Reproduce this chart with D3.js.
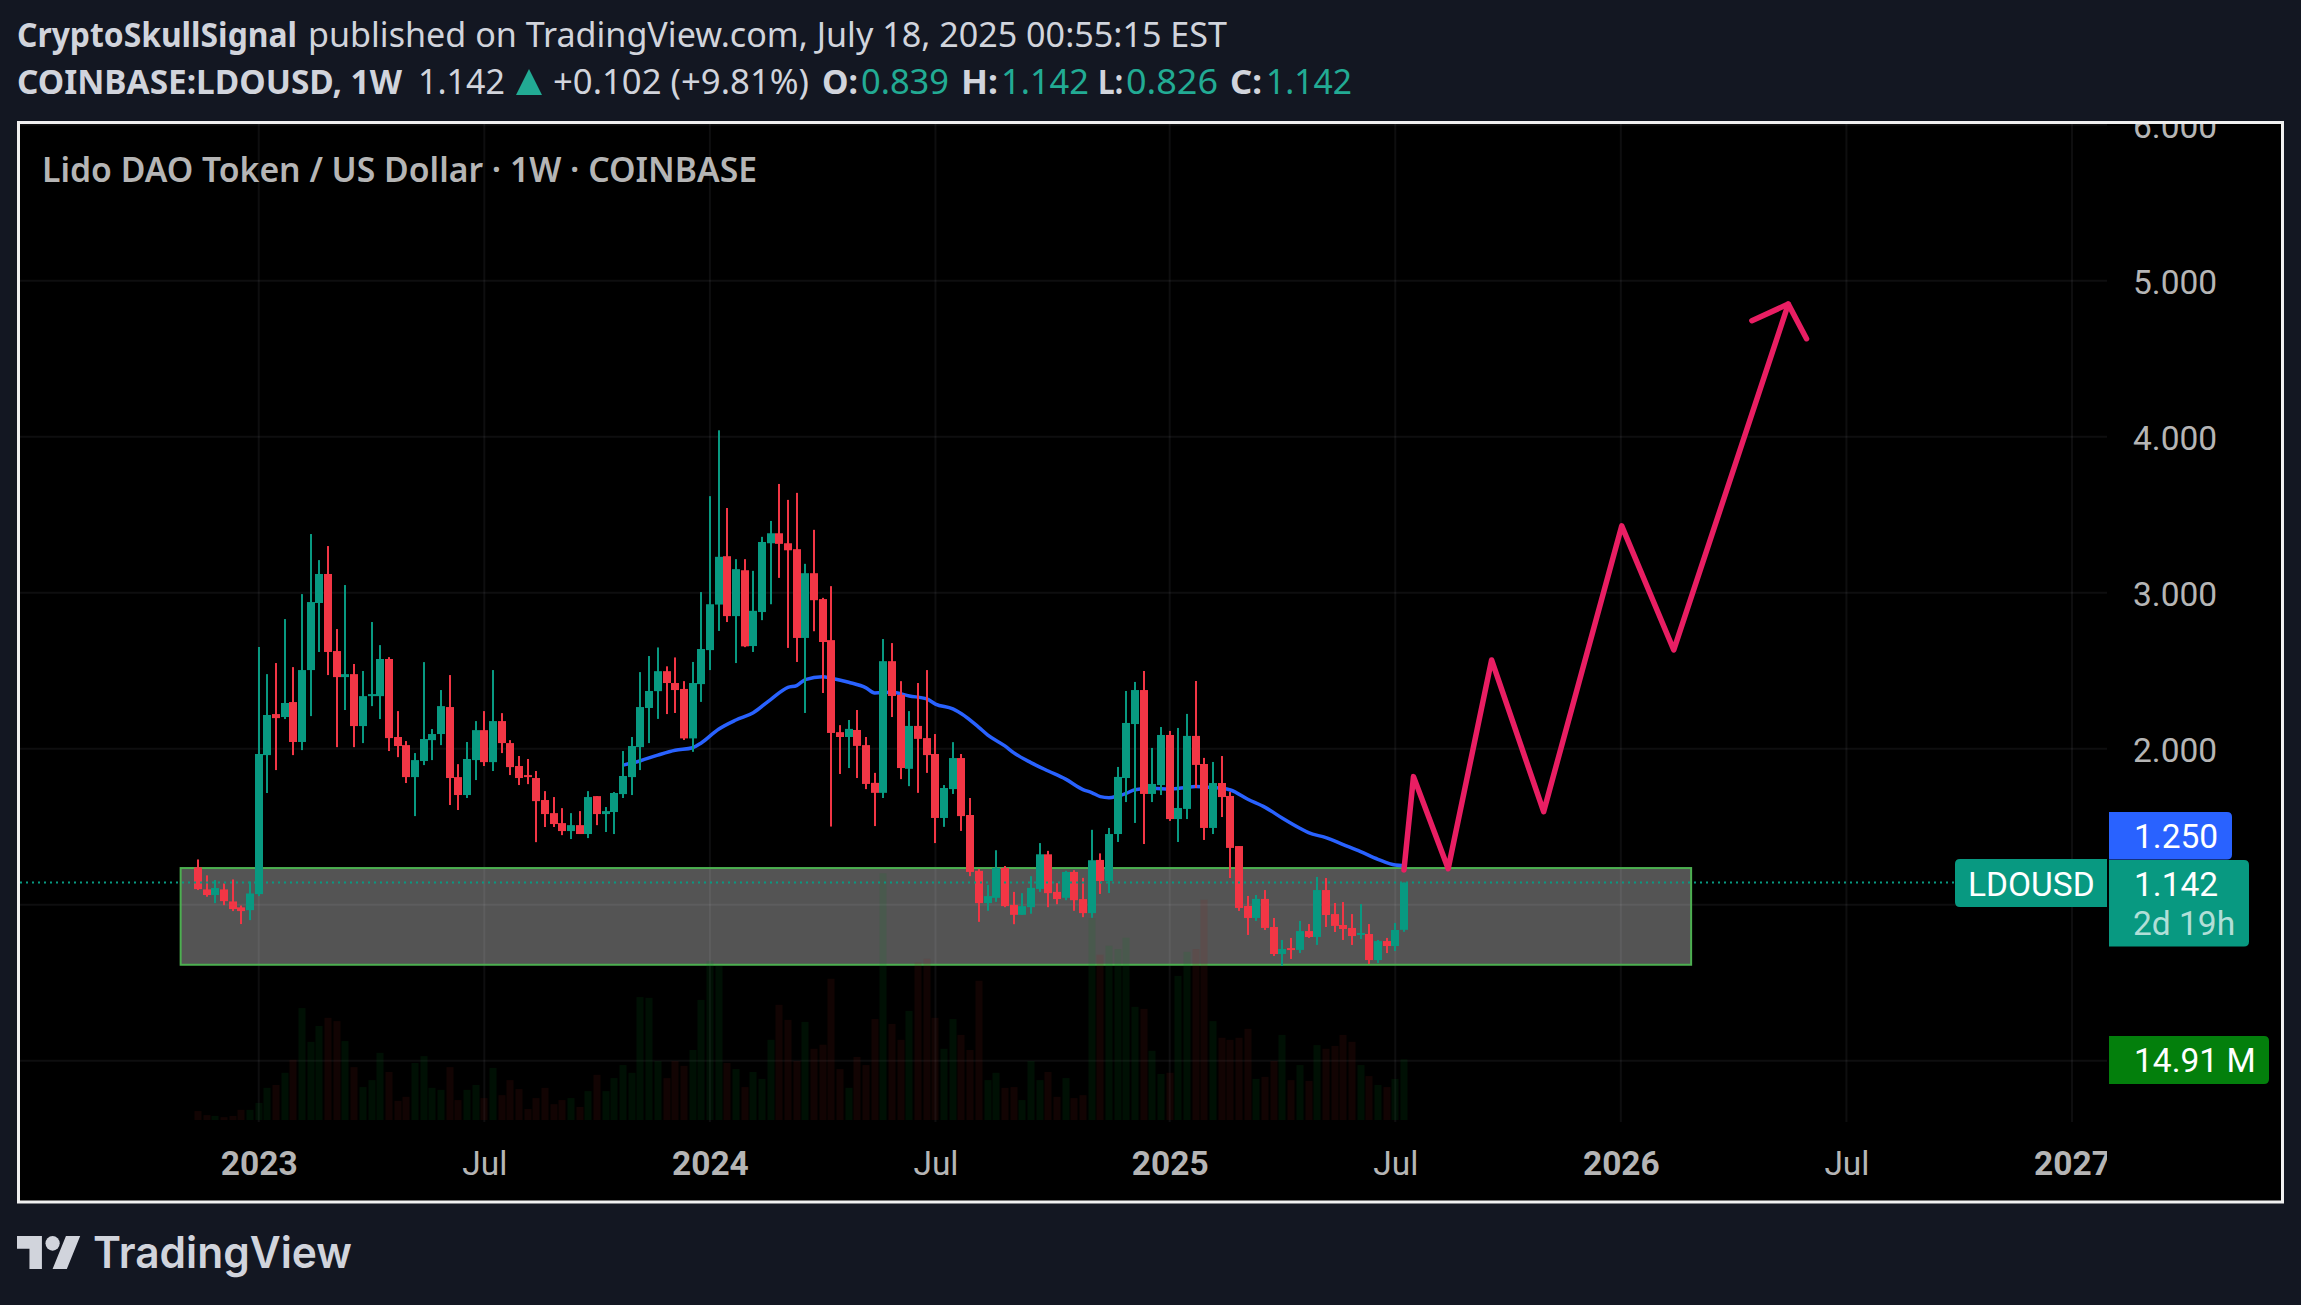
<!DOCTYPE html>
<html>

<head>
    <meta charset="utf-8" />
    <title>LDOUSD weekly</title>
    <script src="https://d3js.org/d3.v7.min.js" charset="utf-8"></script>

    <style type="text/css">
        html, body {
            margin: 0;
            padding: 0;
            background: #131722;
        }

        svg {
            display: block;
        }

        .head {
            font-family: "Noto Sans", sans-serif;
            font-size: 34px;
            fill: #d1d4dc;
        }

        .head .b {
            font-weight: 700;
        }

        .head .up {
            fill: #22ab94;
        }

        .axis text {
            font-family: Roboto, sans-serif;
            font-size: 33.5px;
            fill: #b5b5b5;
        }

        .axis path,
        .axis line {
            display: none;
        }

        .tag {
            font-family: Roboto, sans-serif;
            font-size: 33.5px;
            fill: #fff;
        }
    </style>
</head>

<body>

    <div id="chart"></div>

    <script>
        // Weekly candles (index 0 is late Oct 2022)
        var opens = [1.239, 1.098, 1.062, 1.098, 1.021, 0.983, 0.965, 1.068, 1.959, 2.222,
            2.203, 2.299, 2.043, 2.504, 2.934, 3.120, 2.626, 2.459, 2.478, 2.145,
            2.337, 2.337, 2.575, 2.075, 2.023, 1.818, 1.921, 2.055, 2.094, 2.267,
            1.818, 1.703, 1.927, 2.119, 1.914, 2.177, 2.036, 1.889, 1.831, 1.812,
            1.671, 1.587, 1.523, 1.472, 1.510, 1.453, 1.696, 1.581, 1.594, 1.709,
            1.818, 2.010, 2.261, 2.369, 2.497, 2.421, 2.383, 2.066, 2.414, 2.632,
            2.924, 3.234, 2.850, 3.144, 2.658, 2.876, 3.317, 3.381, 3.317, 3.279,
            2.710, 3.125, 2.959, 2.696, 2.106, 2.075, 2.120, 2.023, 1.781, 1.717,
            2.561, 2.345, 1.871, 2.146, 2.068, 1.966, 1.556, 1.741, 1.940, 1.575,
            1.217, 1.010, 1.044, 1.236, 0.999, 0.935, 0.984, 1.101, 1.323, 1.082,
            1.044, 1.210, 1.036, 0.946, 1.287, 1.152, 1.453, 1.812, 2.158, 2.376,
            1.710, 1.767, 2.088, 1.549, 1.614, 2.082, 1.902, 1.492, 1.780, 1.697,
            1.376, 0.992, 0.915, 1.037, 0.857, 0.684, 0.722, 0.710, 0.831, 0.793,
            1.094, 0.940, 0.870, 0.851, 0.806, 0.812, 0.645, 0.767, 0.735, 0.839]

        var highs = [1.290, 1.188, 1.158, 1.136, 1.162, 0.995, 1.149, 2.652, 2.478, 2.549,
            2.831, 2.523, 2.991, 3.376, 3.209, 3.299, 2.767, 3.049, 2.543, 2.498,
            2.812, 2.664, 2.587, 2.241, 2.049, 1.972, 2.555, 2.126, 2.376, 2.472,
            1.901, 2.043, 2.177, 2.241, 2.504, 2.228, 2.055, 1.953, 1.934, 1.857,
            1.728, 1.690, 1.619, 1.587, 1.600, 1.728, 1.696, 1.626, 1.722, 1.985,
            2.075, 2.491, 2.594, 2.649, 2.528, 2.585, 2.433, 2.556, 3.004, 3.619,
            4.041, 3.543, 3.215, 3.215, 3.140, 3.358, 3.460, 3.697, 3.595, 3.640,
            3.185, 3.403, 2.967, 3.042, 2.151, 2.184, 2.248, 2.075, 1.845, 2.703,
            2.677, 2.433, 2.241, 2.421, 2.504, 2.094, 1.767, 2.042, 1.966, 1.684,
            1.229, 1.127, 1.349, 1.248, 1.082, 1.074, 1.183, 1.395, 1.345, 1.138,
            1.217, 1.221, 1.172, 1.480, 1.329, 1.492, 1.883, 2.370, 2.428, 2.498,
            2.005, 2.139, 2.114, 2.133, 2.223, 2.434, 1.941, 1.915, 1.953, 1.723,
            1.376, 1.056, 1.062, 1.094, 0.915, 0.774, 0.787, 0.896, 0.876, 1.178,
            1.171, 1.011, 1.017, 0.940, 1.004, 0.876, 0.774, 0.787, 0.883, 1.142]

        var lows = [1.094, 1.051, 1.010, 0.997, 0.959, 0.876, 0.901, 1.055, 1.716, 1.863,
            2.190, 1.959, 1.991, 2.209, 2.620, 2.472, 2.010, 2.248, 2.010, 2.036,
            2.273, 2.190, 1.985, 1.946, 1.780, 1.568, 1.895, 1.927, 2.023, 1.639,
            1.607, 1.684, 1.799, 1.889, 1.857, 1.972, 1.831, 1.767, 1.773, 1.401,
            1.498, 1.498, 1.446, 1.421, 1.453, 1.427, 1.510, 1.466, 1.453, 1.684,
            1.703, 1.863, 2.036, 2.191, 2.222, 2.229, 2.056, 1.980, 2.300, 2.504,
            2.755, 2.812, 2.549, 2.651, 2.620, 2.824, 2.926, 3.095, 2.646, 2.556,
            2.229, 2.753, 2.357, 1.501, 1.838, 1.876, 1.812, 1.741, 1.504, 1.684,
            2.203, 1.805, 1.760, 1.717, 1.845, 1.395, 1.499, 1.710, 1.473, 1.183,
            0.890, 0.961, 1.018, 0.984, 0.875, 0.935, 0.942, 1.082, 0.984, 1.003,
            1.029, 0.961, 0.920, 0.916, 1.069, 1.075, 1.402, 1.658, 1.524, 1.389,
            1.658, 1.703, 1.537, 1.402, 1.549, 1.748, 1.415, 1.453, 1.562, 1.171,
            0.960, 0.806, 0.896, 0.838, 0.671, 0.607, 0.652, 0.690, 0.787, 0.742,
            0.857, 0.825, 0.774, 0.742, 0.780, 0.620, 0.626, 0.690, 0.703, 0.826]

        var closes = [1.100, 1.062, 1.107, 1.023, 0.972, 0.959, 1.072, 1.966, 2.216, 2.196,
            2.293, 2.043, 2.504, 2.940, 3.120, 2.620, 2.459, 2.478, 2.145, 2.337,
            2.350, 2.575, 2.068, 2.017, 1.818, 1.927, 2.062, 2.094, 2.273, 1.812,
            1.703, 1.934, 2.119, 1.914, 2.177, 2.036, 1.882, 1.812, 1.818, 1.664,
            1.581, 1.517, 1.472, 1.510, 1.453, 1.690, 1.581, 1.600, 1.716, 1.825,
            2.017, 2.267, 2.370, 2.497, 2.421, 2.376, 2.066, 2.421, 2.639, 2.926,
            3.230, 2.850, 3.151, 2.656, 2.884, 3.325, 3.381, 3.313, 3.272, 2.710,
            3.125, 2.952, 2.684, 2.101, 2.075, 2.127, 2.018, 1.774, 1.717, 2.561,
            2.338, 1.876, 2.146, 2.063, 1.959, 1.556, 1.748, 1.940, 1.568, 1.210,
            1.010, 1.055, 1.236, 0.991, 0.935, 0.991, 1.108, 1.323, 1.074, 1.036,
            1.210, 1.029, 0.946, 1.285, 1.152, 1.453, 1.819, 2.165, 2.376, 1.710,
            1.774, 2.088, 1.549, 1.620, 2.082, 1.896, 1.492, 1.780, 1.690, 1.364,
            0.979, 0.915, 1.037, 0.851, 0.684, 0.716, 0.710, 0.831, 0.793, 1.094,
            0.934, 0.864, 0.844, 0.799, 0.819, 0.645, 0.767, 0.735, 0.838, 1.142]

        // Volume in millions
        var volumes = [2.2, 1.2, 1.0, 0.7, 1.0, 2.5, 2.5, 4.2, 7.9, 8.6,
            11.6, 14.8, 27.5, 19.2, 23.1, 25.1, 24.3, 19.4, 13.0, 8.1,
            9.8, 16.5, 11.8, 4.7, 5.7, 14.0, 15.7, 7.9, 7.4, 13.0,
            4.9, 7.4, 8.6, 5.4, 12.8, 6.1, 9.8, 7.6, 2.7, 5.4,
            7.9, 3.9, 4.9, 5.4, 3.2, 7.1, 11.1, 7.1, 10.3, 13.5,
            11.6, 30.2, 30.0, 14.5, 10.3, 14.5, 13.3, 17.2, 29.5, 39.1,
            37.9, 14.0, 12.5, 8.1, 11.8, 10.1, 19.7, 28.3, 24.6, 14.5,
            24.1, 17.5, 18.5, 34.7, 12.5, 7.9, 15.5, 13.5, 24.8, 60.6,
            23.6, 19.7, 26.8, 38.7, 39.6, 25.1, 17.5, 24.8, 20.9, 17.2,
            34.2, 9.8, 11.6, 7.9, 8.1, 4.9, 14.5, 9.8, 11.8, 5.7,
            10.3, 5.4, 6.1, 49.6, 40.6, 42.8, 42.0, 44.8, 27.8, 27.3,
            17.0, 11.3, 11.6, 35.4, 41.3, 42.0, 54.1, 24.3, 20.2, 19.7,
            20.2, 22.4, 10.1, 10.6, 14.5, 20.9, 9.8, 13.5, 9.6, 18.4,
            17.5, 18.2, 20.9, 19.2, 13.5, 10.8, 8.6, 8.1, 10.1, 14.91]

        // Blue moving average, sampled by bar index
        var maBars = [49, 51, 53, 55, 57, 58, 60, 62, 64, 66, 68, 69, 70, 72, 73, 75, 77, 78, 80, 82,
            84, 85, 87, 88, 90, 91, 93, 94, 96, 98, 100, 102, 103, 104, 105, 106, 107, 108, 110, 112,
            114, 115, 117, 118, 119, 121, 123, 125, 127, 128, 130, 132, 134, 136, 138, 139]
        var maValues = [1.895, 1.923, 1.959, 1.990, 2.006, 2.037, 2.125, 2.184, 2.231, 2.315, 2.393, 2.405, 2.443, 2.462, 2.452, 2.426, 2.390, 2.357, 2.362, 2.338,
            2.319, 2.286, 2.255, 2.224, 2.137, 2.089, 2.018, 1.975, 1.911, 1.857, 1.805, 1.738, 1.719, 1.693, 1.686, 1.697, 1.714, 1.737, 1.746, 1.742,
            1.752, 1.757, 1.750, 1.746, 1.735, 1.676, 1.624, 1.554, 1.490, 1.462, 1.430, 1.385, 1.340, 1.291, 1.254, 1.250]

        // Pink projection drawn by the author
        var arrowBars = [139, 140.1, 144.1, 149.1, 155.1, 164.1, 170.1, 183.3]
        var arrowPrices = [1.222, 1.821, 1.231, 2.569, 1.596, 3.428, 2.633, 4.85]
        var headBars = [179.1, 183.3, 185.4]
        var headPrices = [4.744, 4.85, 4.628]

        // Grey zone with green border
        var zoneBars = [-2, 172.1]
        var zonePrices = [1.235, 0.615]

        var lastPrice = 1.142
        var lastVolume = 14.91
        var maLast = 1.25

        var gridPrices = [0, 1, 2, 3, 4, 5, 6]
        var labelPrices = [2, 3, 4, 5, 6]
        var timeBars = [7, 33, 59, 85, 112, 138, 164, 190, 216]
        var timeLabels = ["2023", "Jul", "2024", "Jul", "2025", "Jul", "2026", "Jul", "2027"]

        var width = 2301,
            height = 1305,
            pane = { left: 20, right: 2281, top: 124, bottom: 1200 },
            axisX = 2107

        var upColor = "#089981",
            downColor = "#f23645"

        var xScale = d3.scaleLinear().domain([0, 216]).range([198, 2072])
        var yScale = d3.scaleLinear().domain([0, 6]).range([1060.7, 124.7])
        var volScale = d3.scaleLinear().domain([0, lastVolume]).range([1120, 1059.3])

        var bars = d3.range(opens.length)

        var svg = d3.select("#chart")
            .append("svg")
            .attr("width", width)
            .attr("height", height)

        var defs = svg.append("defs")
        defs.append("clipPath").attr("id", "paneClip").append("rect")
            .attr("x", pane.left).attr("y", pane.top)
            .attr("width", pane.right - pane.left).attr("height", pane.bottom - pane.top)
        defs.append("clipPath").attr("id", "plotClip").append("rect")
            .attr("x", pane.left).attr("y", pane.top)
            .attr("width", axisX - pane.left).attr("height", pane.bottom - pane.top)

        // Pane background and border
        svg.append("rect")
            .attr("x", 18.5).attr("y", 122.5)
            .attr("width", 2264).attr("height", 1079.5)
            .attr("fill", "#000")
            .attr("stroke", "#f0f0f0")
            .attr("stroke-width", 3)

        var plot = svg.append("g").attr("clip-path", "url(#plotClip)")

        // Grid
        var gridColor = "rgba(240,243,250,0.06)"
        plot.selectAll(".hgrid").data(gridPrices).enter().append("line")
            .attr("x1", pane.left).attr("x2", axisX)
            .attr("y1", function(d) { return yScale(d) })
            .attr("y2", function(d) { return yScale(d) })
            .attr("stroke", gridColor).attr("stroke-width", 2)
        plot.selectAll(".vgrid").data(timeBars).enter().append("line")
            .attr("x1", function(d) { return xScale(d) })
            .attr("x2", function(d) { return xScale(d) })
            .attr("y1", pane.top).attr("y2", 1122)
            .attr("stroke", gridColor).attr("stroke-width", 2)

        // Zone
        plot.append("rect")
            .attr("x", xScale(zoneBars[0]))
            .attr("y", yScale(zonePrices[0]))
            .attr("width", xScale(zoneBars[1]) - xScale(zoneBars[0]))
            .attr("height", yScale(zonePrices[1]) - yScale(zonePrices[0]))
            .attr("fill", "rgba(255,255,255,0.33)")
            .attr("stroke", "#4caf50")
            .attr("stroke-width", 2)

        // Volume
        plot.selectAll(".vol").data(bars).enter().append("rect")
            .attr("x", function(i) { return Math.round(xScale(i)) - 3.5 })
            .attr("width", 7)
            .attr("y", function(i) { return volScale(volumes[i]) })
            .attr("height", function(i) { return volScale(0) - volScale(volumes[i]) })
            .attr("fill", function(i) { return closes[i] >= opens[i] ? "rgb(0,128,30)" : "rgb(140,30,20)" })
            .attr("fill-opacity", 0.125)

        // Moving average
        var maLine = d3.line()
            .x(function(d) { return xScale(d) })
            .y(function(d, i) { return yScale(maValues[i]) })
            .curve(d3.curveMonotoneX)

        plot.append("path")
            .attr("d", maLine(maBars))
            .attr("fill", "none")
            .attr("stroke", "#2962ff")
            .attr("stroke-width", 3.5)

        // Candles
        plot.selectAll(".wick").data(bars).enter().append("rect")
            .attr("x", function(i) { return Math.round(xScale(i)) - 1 })
            .attr("width", 2)
            .attr("y", function(i) { return yScale(highs[i]) })
            .attr("height", function(i) { return yScale(lows[i]) - yScale(highs[i]) })
            .attr("fill", function(i) { return closes[i] >= opens[i] ? upColor : downColor })

        plot.selectAll(".body").data(bars).enter().append("rect")
            .attr("x", function(i) { return Math.round(xScale(i)) - 4 })
            .attr("width", 8)
            .attr("y", function(i) { return yScale(Math.max(opens[i], closes[i])) })
            .attr("height", function(i) { return Math.max(2, Math.abs(yScale(opens[i]) - yScale(closes[i]))) })
            .attr("fill", function(i) { return closes[i] >= opens[i] ? upColor : downColor })

        // Last price dotted line
        svg.append("line")
            .attr("x1", pane.left).attr("x2", 1955)
            .attr("y1", yScale(lastPrice)).attr("y2", yScale(lastPrice))
            .attr("stroke", upColor)
            .attr("stroke-width", 2)
            .attr("stroke-dasharray", "2 4")

        // Projection arrow
        var arrowLine = d3.line()
            .x(function(d) { return xScale(d[0]) })
            .y(function(d) { return yScale(d[1]) })

        plot.append("path")
            .attr("d", arrowLine(d3.zip(arrowBars, arrowPrices)))
            .attr("fill", "none").attr("stroke", "#e91e63").attr("stroke-width", 5.5)
            .attr("stroke-linecap", "round").attr("stroke-linejoin", "round")
        plot.append("path")
            .attr("d", arrowLine(d3.zip(headBars, headPrices)))
            .attr("fill", "none").attr("stroke", "#e91e63").attr("stroke-width", 5.5)
            .attr("stroke-linecap", "round").attr("stroke-linejoin", "round")

        // Axes (1.000 and 0.000 sit behind the tags in the original, so only the grid shows them)
        var clipped = svg.append("g").attr("clip-path", "url(#paneClip)")

        clipped.append("g")
            .attr("class", "axis")
            .attr("transform", "translate(2133, 2)")
            .call(d3.axisRight(yScale).tickValues(labelPrices).tickFormat(d3.format(".3f")).tickSize(0).tickPadding(0))
            .selectAll("text").attr("x", 0).attr("text-anchor", "start")

        var timeAxis = plot.append("g")
            .attr("class", "axis")
            .attr("transform", "translate(0, 1172)")
            .call(d3.axisBottom(xScale)
                .tickValues(timeBars)
                .tickSize(0)
                .tickFormat(function(d, i) { return timeLabels[i] }))

        timeAxis.selectAll("text")
            .attr("y", 2.5)
            .attr("dy", 0)
            .style("font-weight", function(d, i) { return timeLabels[i] === "Jul" ? 400 : 700 })

        // Tags on the right
        function tag(x, y, w, h, color, flatSide) {
            var r = 5
            var tl = flatSide === "left" ? 0 : r,
                tr = flatSide === "right" ? 0 : r
            var p = d3.path()
            p.moveTo(x + tl, y)
            p.lineTo(x + w - tr, y)
            if (tr) p.quadraticCurveTo(x + w, y, x + w, y + tr)
            p.lineTo(x + w, y + h - tr)
            if (tr) p.quadraticCurveTo(x + w, y + h, x + w - tr, y + h)
            p.lineTo(x + tl, y + h)
            if (tl) p.quadraticCurveTo(x, y + h, x, y + h - tl)
            p.lineTo(x, y + tl)
            if (tl) p.quadraticCurveTo(x, y, x + tl, y)
            p.closePath()
            svg.append("path").attr("d", p.toString()).attr("fill", color)
        }

        function tagText(x, y, str, opacity) {
            svg.append("text").attr("class", "tag")
                .attr("x", x).attr("y", y)
                .attr("fill-opacity", opacity || 1)
                .text(str)
        }

        tag(2109, 812, 123, 47.5, "#2962ff", "left")
        tagText(2134, 848, d3.format(".3f")(maLast))
        tag(1955, 859, 152, 48, upColor, "right")
        tagText(1968, 896, "LDOUSD")
        tag(2109, 860, 140, 86.5, upColor, "left")
        tagText(2134, 896, d3.format(".3f")(lastPrice))
        tagText(2133, 935, "2d 19h", 0.7)
        tag(2109, 1036, 160, 48, "#037f0c", "left")
        tagText(2134, 1072, lastVolume + " M")

        // Header text, each run fitted to the width it has in the picture
        var head = svg.append("g").attr("class", "head")

        function headText(x, y, w, str, cls) {
            head.append("text")
                .attr("x", x).attr("y", y)
                .attr("class", cls || "")
                .attr("textLength", w)
                .attr("lengthAdjust", "spacingAndGlyphs")
                .text(str)
        }

        headText(17, 47, 280, "CryptoSkullSignal", "b")
        headText(308, 47, 919, "published on TradingView.com, July 18, 2025 00:55:15 EST")

        headText(17, 94, 385, "COINBASE:LDOUSD, 1W", "b")
        headText(418, 94, 87, "1.142")
        svg.append("path").attr("d", "M529 69 L542 95 L516 95 Z").attr("fill", "#22ab94")
        headText(553, 94, 256, "+0.102 (+9.81%)")
        headText(822, 94, 36, "O:", "b")
        headText(861, 94, 88, "0.839", "up")
        headText(961, 94, 37, "H:", "b")
        headText(1001, 94, 88, "1.142", "up")
        headText(1098, 94, 25, "L:", "b")
        headText(1126, 94, 92, "0.826", "up")
        headText(1230, 94, 32, "C:", "b")
        headText(1266, 94, 86, "1.142", "up")

        svg.append("text")
            .attr("x", 42).attr("y", 182)
            .attr("font-family", "'Noto Sans', sans-serif")
            .attr("font-size", 34)
            .attr("font-weight", 600)
            .attr("fill", "#b5b5b5")
            .attr("textLength", 715)
            .attr("lengthAdjust", "spacingAndGlyphs")
            .text("Lido DAO Token / US Dollar · 1W · COINBASE")

        // TradingView logo
        var logo = svg.append("g").attr("transform", "translate(17, 1236) scale(1.78, 1.83) translate(0, -4)")
        logo.append("path").attr("d", "M14 22H7V11H0V4h14v18zM28 22h-8l7.5-18h8L28 22z").attr("fill", "#d1d4dc")
        logo.append("circle").attr("cx", 20).attr("cy", 8).attr("r", 4).attr("fill", "#d1d4dc")

        svg.append("text")
            .attr("x", 93).attr("y", 1268)
            .attr("font-family", "Inter, sans-serif")
            .attr("font-size", 44)
            .attr("font-weight", 600)
            .attr("fill", "#d1d4dc")
            .attr("textLength", 259)
            .attr("lengthAdjust", "spacingAndGlyphs")
            .text("TradingView")
    </script>

</body>

</html>
